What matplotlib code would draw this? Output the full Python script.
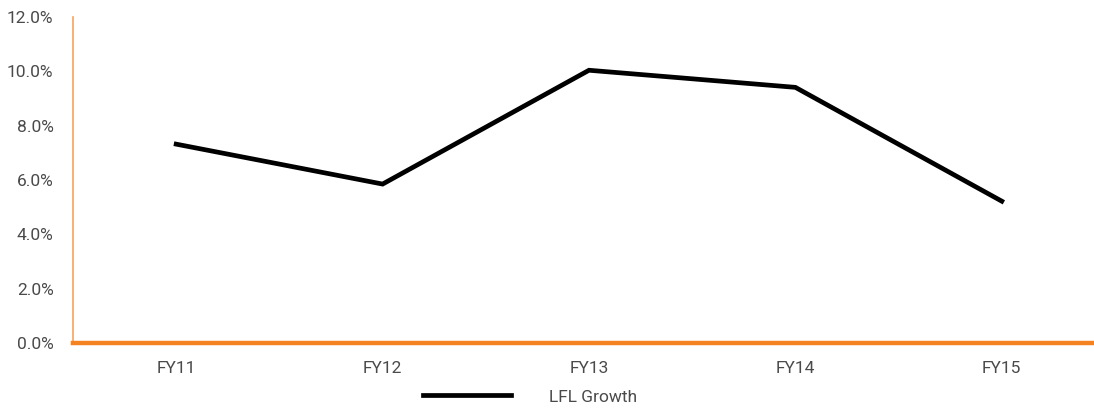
import matplotlib.pyplot as plt
import matplotlib.ticker as ticker

years = ["FY11", "FY12", "FY13", "FY14", "FY15"]
lfl_growth = [7.32, 5.85, 10.04, 9.41, 5.22]

plt.rcParams["font.family"] = ["Roboto", "DejaVu Sans"]

W, H = 1094, 408
fig = plt.figure(figsize=(W / 100, H / 100), dpi=100)
ax = fig.add_axes([73 / W, 65 / H, 1032 / W, 326 / H])

x = range(len(years))
line, = ax.plot(x, lfl_growth, color="black", linewidth=3.4,
                solid_joinstyle="miter", label="LFL Growth")

ax.set_xlim(-0.5, len(years) - 0.5)
ax.set_ylim(0, 12)
ax.set_xticks(list(x))
ax.set_xticklabels(years)
ax.yaxis.set_major_locator(ticker.MultipleLocator(2))
ax.yaxis.set_major_formatter(lambda v, _: f"{v:.1f}%")
ax.tick_params(length=0, labelsize=12.5, labelcolor="#4a4a4a")
ax.tick_params(axis="x", pad=13)
ax.tick_params(axis="y", pad=14)

for s in ("top", "right"):
    ax.spines[s].set_visible(False)
ax.spines["left"].set_color("#F7A35C")
ax.spines["left"].set_linewidth(1.2)
ax.spines["bottom"].set_color("#F58220")
ax.spines["bottom"].set_linewidth(3.2)

fig.legend(handles=[line], loc="center", bbox_to_anchor=(530 / W, 1 - 397 / H),
           frameon=False, fontsize=12.5, handlelength=5.1, handletextpad=2.2,
           labelcolor="#4a4a4a")

fig.savefig("out.png", dpi=100)
